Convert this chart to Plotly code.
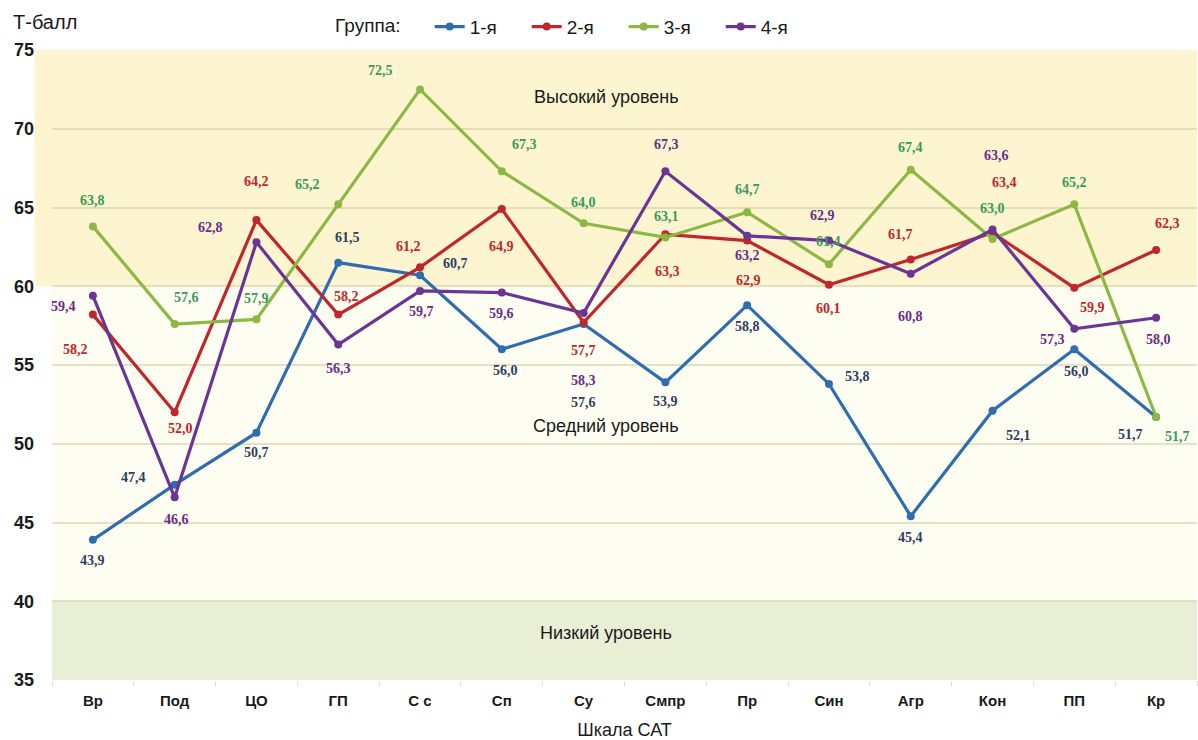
import plotly.graph_objects as go

categories = ["Вр", "Под", "ЦО", "ГП", "С с", "Сп", "Су", "Смпр", "Пр", "Син", "Агр", "Кон", "ПП", "Кр"]
group_names = ["1-я", "2-я", "3-я", "4-я"]
g1 = [43.9, 47.4, 50.7, 61.5, 60.7, 56.0, 57.6, 53.9, 58.8, 53.8, 45.4, 52.1, 56.0, 51.7]
g2 = [58.2, 52.0, 64.2, 58.2, 61.2, 64.9, 57.7, 63.3, 62.9, 60.1, 61.7, 63.4, 59.9, 62.3]
g3 = [63.8, 57.6, 57.9, 65.2, 72.5, 67.3, 64.0, 63.1, 64.7, 61.4, 67.4, 63.0, 65.2, 51.7]
g4 = [59.4, 46.6, 62.8, 56.3, 59.7, 59.6, 58.3, 67.3, 63.2, 62.9, 60.8, 63.6, 57.3, 58.0]
y_ticks = [35, 40, 45, 50, 55, 60, 65, 70, 75]
bands = [(60, 75, "Высокий уровень", 72.0), (40, 60, "Средний уровень", 51.1), (35, 40, "Низкий уровень", 38.0)]

# styles (not data)
line_colors = ["#2E6DB0", "#C0262B", "#8CB843", "#6A3594"]
label_colors = ["#2F3E62", "#C0262B", "#3A9A5A", "#6A2C8C"]
band_colors = ["#FCF5D0", "#FEFDF1", "#E9EFD4"]
# label offsets in pixels (dx, dy downward positive)
offs = [
    [(0, 21), (-41, -7), (0, 20), (9, -25), (35, -12), (4, 21), (0, 78), (0, 19), (0, 21), (29, -7), (0, 21), (26, 25), (2, 22), (-26, 18)],
    [(-17, 35), (6, 16), (0, -39), (8, -18), (-12, -21), (0, 37), (0, 28), (2, 37), (1, 40), (0, 24), (-10, -25), (12, -50), (18, 20), (11, -27)],
    [(0, -26), (12, -27), (0, -21), (-31, -20), (-40, -19), (23, -27), (0, -21), (1, -21), (0, -23), (0, -23), (0, -22), (0, -31), (0, -22), (21, 20)],
    [(-29, 11), (2, 22), (-46, -15), (0, 24), (1, 21), (0, 21), (0, 67), (1, -27), (0, 20), (-6, -25), (0, 43), (4, -74), (-22, 11), (2, 22)],
]

series = [g1, g2, g3, g4]
fig = go.Figure()
for name, vals, col in zip(group_names, series, line_colors):
    fig.add_trace(go.Scatter(
        x=categories, y=vals, name=name, mode="lines+markers",
        line=dict(color=col, width=3.2),
        marker=dict(color=col, size=8),
        hoverinfo="x+y+name",
    ))

annotations = []
for vals, lc, off in zip(series, label_colors, offs):
    for c, v, (dx, dy) in zip(categories, vals, off):
        annotations.append(dict(
            x=c, y=v, xref="x", yref="y", text=f"{v:.1f}".replace(".", ","),
            showarrow=False, xshift=dx, yshift=-dy,
            font=dict(family="Liberation Serif, Times New Roman, serif", size=14, color=lc, weight="bold"),
        ))

shapes = []
for (y0, y1, txt, ty), bc in zip(bands, band_colors):
    shapes.append(dict(type="rect", xref="paper", yref="y", x0=-0.015 if y0 == 60 else 0, x1=1,
                       y0=y0, y1=y1, fillcolor=bc, line=dict(width=0), layer="below"))
    annotations.append(dict(x=0.484, xref="paper", y=ty, yref="y", text=txt, showarrow=False,
                            font=dict(family="Liberation Sans, Arial, sans-serif", size=18, color="#1a1a1a")))

annotations.append(dict(x=-0.036, xref="paper", y=1.044, yref="paper", text="Т-балл", showarrow=False,
                        xanchor="left", yanchor="middle",
                        font=dict(family="Liberation Sans, Arial, sans-serif", size=20, color="#1a1a1a")))

fig.update_layout(
    width=1198, height=740,
    margin=dict(l=52, r=1, t=50, b=60, autoexpand=False),
    paper_bgcolor="white", plot_bgcolor="white",
    shapes=shapes, annotations=annotations,
    showlegend=True,
    legend=dict(orientation="h", x=0.2455, xanchor="left", y=1.037, yanchor="middle",
                title=dict(text="Группа:" + "\u00a0" * 4, font=dict(size=19, color="#1a1a1a")),
                font=dict(family="Liberation Sans, Arial, sans-serif", size=19, color="#1a1a1a"),
                entrywidth=52, entrywidthmode="pixels", bgcolor="rgba(0,0,0,0)"),
    font=dict(family="Liberation Sans, Arial, sans-serif", color="#1a1a1a"),
    xaxis=dict(type="category", range=[-0.5, 13.5], showgrid=False, zeroline=False,
               ticks="outside", tickson="boundaries", ticklen=5, tickcolor="#dddddd",
               showline=False, ticklabelstandoff=10,
               tickfont=dict(family="Liberation Sans Narrow, Liberation Sans, Arial", size=15, color="#1a1a1a", weight="bold"),
               title=dict(text="Шкала САТ", font=dict(size=18, color="#1a1a1a"), standoff=16)),
    yaxis=dict(range=[35, 75], tickvals=y_ticks, showgrid=True, gridcolor="rgba(210,200,160,0.55)",
               gridwidth=1.5, zeroline=False, showline=False, ticks="", ticklabelstandoff=17,
               tickfont=dict(family="Liberation Sans, Arial", size=18, color="#1a1a1a", weight="bold")),
)

fig.write_html("out.html", config={"displayModeBar": False},
               post_script="document.body.style.margin='0px';document.body.style.overflow='hidden';")
